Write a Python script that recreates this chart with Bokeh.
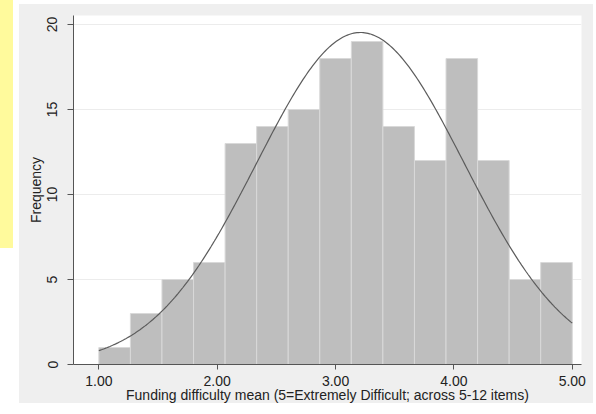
import numpy as np
from bokeh.plotting import figure
from bokeh.models import FixedTicker, NumeralTickFormatter
from bokeh.embed import file_html
from bokeh.resources import INLINE

# ---- data ----
bin_start = 1.0
bin_end = 5.0
counts = [1, 3, 5, 6, 13, 14, 15, 18, 19, 14, 12, 18, 12, 5, 6]
x_ticks = [1.0, 2.0, 3.0, 4.0, 5.0]
y_ticks = [0, 5, 10, 15, 20]
curve_mean = 3.21   # mean of the fitted normal overlay
curve_sd = 0.877    # sd of the fitted normal overlay
x_title = "Funding difficulty mean (5=Extremely Difficult; across 5-12 items)"
y_title = "Frequency"

# ---- derived ----
n_bins = len(counts)
bw = (bin_end - bin_start) / n_bins
lefts = [bin_start + i * bw for i in range(n_bins)]
rights = [l + bw for l in lefts]
n_total = sum(counts)
cx = np.linspace(bin_start, bin_end, 300)
cy = n_total * bw * np.exp(-0.5 * ((cx - curve_mean) / curve_sd) ** 2) / (curve_sd * np.sqrt(2 * np.pi))

FONT = "Liberation Sans"
TXT = "#222222"

p = figure(width=596, height=414, x_range=(0.786, 5.078), y_range=(0, 20.53),
           output_backend="svg", toolbar_location=None,
           min_border_left=73, min_border_right=15, min_border_top=15, min_border_bottom=50)
# page look: yellow strip at far left, light-gray graph region, white elsewhere
p.styles = {
    "background": ("linear-gradient(#fffa9c, #fffa9c) 0px 0px / 13px 248px no-repeat, "
                   "linear-gradient(#efefef, #efefef) 19px 4px / 574px 399px no-repeat, "
                   "#ffffff"),
}
p.border_fill_color = "#efefef"
p.border_fill_alpha = 0.0
p.background_fill_color = "white"
p.outline_line_color = None

p.quad(left=lefts, right=rights, bottom=0, top=counts,
       fill_color="#bebebe", line_color="#d9d9d9", line_width=1)
p.line(cx, cy, line_color="#5c5c5c", line_width=1.2)

p.xgrid.visible = False
p.ygrid.ticker = FixedTicker(ticks=y_ticks)
p.ygrid.grid_line_color = "#ececec"
p.ygrid.grid_line_width = 1

p.xaxis.ticker = FixedTicker(ticks=x_ticks)
p.xaxis.formatter = NumeralTickFormatter(format="0.00")
p.yaxis.ticker = FixedTicker(ticks=y_ticks)
p.yaxis.major_label_orientation = "vertical"

for ax in (p.xaxis[0], p.yaxis[0]):
    ax.axis_line_color = "#555555"
    ax.major_tick_line_color = "#555555"
    ax.minor_tick_line_color = None
    ax.major_tick_in = 0
    ax.major_label_text_font = FONT
    ax.major_label_text_font_size = "14px"
    ax.major_label_text_color = TXT
    ax.axis_label_text_font = FONT
    ax.axis_label_text_font_size = "14px"
    ax.axis_label_text_font_style = "normal"
    ax.axis_label_text_color = TXT

p.xaxis.major_tick_out = 5
p.yaxis.major_tick_out = 6
p.xaxis.major_label_standoff = 6
p.yaxis.major_label_standoff = 10
p.xaxis.axis_label = x_title
p.yaxis.axis_label = y_title
p.xaxis.axis_label_standoff = -2
p.yaxis.axis_label_standoff = 1

open("out.html", "w").write(file_html(p, INLINE))
